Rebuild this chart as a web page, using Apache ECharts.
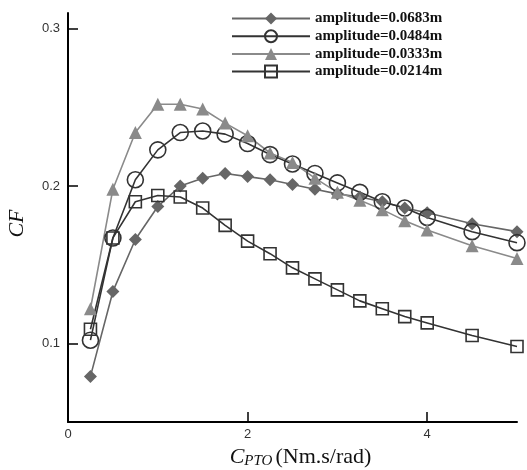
<!DOCTYPE html>
<html>
<head>
<meta charset="utf-8">
<script src="https://cdn.jsdelivr.net/npm/echarts@6/dist/echarts.min.js"></script>
<style>
  html, body { margin: 0; padding: 0; background: #fff; }
  #chart { width: 527px; height: 470px; }
</style>
</head>
<body>
<div id="chart"></div>
<script>
// PTO damping coefficient (Nm.s/rad)
const cpto = [0.25, 0.5, 0.75, 1, 1.25, 1.5, 1.75, 2, 2.25, 2.5, 2.75, 3, 3.25, 3.5, 3.75, 4, 4.5, 5];

// CF for each wave amplitude
const cfA0683 = [0.079, 0.133, 0.166, 0.187, 0.200, 0.205, 0.208, 0.206, 0.204, 0.201, 0.198, 0.195, 0.193, 0.190, 0.186, 0.183, 0.176, 0.171];
const cfA0484 = [0.102, 0.167, 0.204, 0.223, 0.234, 0.235, 0.233, 0.227, 0.220, 0.214, 0.208, 0.202, 0.196, 0.190, 0.186, 0.180, 0.171, 0.164];
const cfA0333 = [0.122, 0.198, 0.234, 0.252, 0.252, 0.249, 0.240, 0.232, 0.221, 0.215, 0.205, 0.196, 0.191, 0.185, 0.178, 0.172, 0.162, 0.154];
const cfA0214 = [0.109, 0.167, 0.190, 0.194, 0.193, 0.186, 0.175, 0.165, 0.157, 0.148, 0.141, 0.134, 0.127, 0.122, 0.117, 0.113, 0.105, 0.098];

const seriesNames = ['amplitude=0.0683m', 'amplitude=0.0484m', 'amplitude=0.0333m', 'amplitude=0.0214m'];

// axis ticks
const xTicks = [0, 2, 4];
const yTicks = [0.1, 0.2, 0.3];

const pair = (ys) => cpto.map((x, i) => [x, ys[i]]);

function makeSeries(name, ys, color, symbol, size, hollow) {
  return {
    name: name,
    type: 'line',
    data: pair(ys),
    symbol: symbol,
    symbolSize: size,
    showSymbol: true,
    lineStyle: { color: color, width: 1.6 },
    itemStyle: hollow
      ? { color: 'rgba(255,255,255,0)', borderColor: color, borderWidth: 1.6 }
      : { color: color, borderWidth: 0 },
    emphasis: { disabled: true },
    animation: false
  };
}

const chart = echarts.init(document.getElementById('chart'), null, { renderer: 'canvas' });

chart.setOption({
  backgroundColor: '#ffffff',
  animation: false,
  grid: { left: 68, right: 10, top: 13, bottom: 48, containLabel: false, outerBoundsMode: 'none' },
  legend: {
    orient: 'vertical',
    left: 226,
    top: 6,
    itemWidth: 78,
    itemHeight: 15,
    itemGap: 2.7,
    data: seriesNames,
    textStyle: {
      fontFamily: 'Liberation Serif',
      fontWeight: 'bold',
      fontSize: 15,
      color: '#111'
    }
  },
  xAxis: {
    type: 'value',
    min: 0,
    max: 5,
    interval: 2,
    splitLine: { show: false },
    axisLine: { onZero: false, lineStyle: { color: '#000', width: 2 } },
    axisTick: { inside: true, length: 10, customValues: [2, 4], lineStyle: { color: '#000', width: 1.5 } },
    axisLabel: { customValues: xTicks, color: '#333', fontFamily: 'Liberation Sans', fontSize: 13, margin: 6 },
    name: '{c|C}{s|PTO}{n|(Nm.s/rad)}',
    nameLocation: 'middle',
    nameGap: 20,
    nameTextStyle: {
      padding: [0, 0, 0, 16],
      rich: {
        c: { fontFamily: 'Liberation Serif', fontStyle: 'italic', fontSize: 22, color: '#111' },
        s: { fontFamily: 'Liberation Serif', fontStyle: 'italic', fontSize: 15, color: '#111', padding: [9, 3, 0, 0] },
        n: { fontFamily: 'Liberation Serif', fontSize: 22, color: '#111' }
      }
    }
  },
  yAxis: {
    type: 'value',
    min: 0.05,
    max: 0.31,
    splitLine: { show: false },
    axisLine: { onZero: false, lineStyle: { color: '#000', width: 2 } },
    axisTick: { inside: true, length: 10, customValues: yTicks, lineStyle: { color: '#000', width: 1.5 } },
    axisLabel: { customValues: yTicks, color: '#333', fontFamily: 'Liberation Sans', fontSize: 13, margin: 8 },
    name: 'CF',
    nameLocation: 'middle',
    nameRotate: 90,
    nameGap: 40,
    nameTextStyle: { fontFamily: 'Liberation Serif', fontStyle: 'italic', fontSize: 22, color: '#111', padding: [0, 12, 0, 0] }
  },
  series: [
    makeSeries(seriesNames[0], cfA0683, '#666666', 'diamond', 13, false),
    makeSeries(seriesNames[1], cfA0484, '#333333', 'circle', 16, true),
    makeSeries(seriesNames[2], cfA0333, '#8a8a8a', 'triangle', 13, false),
    makeSeries(seriesNames[3], cfA0214, '#333333', 'rect', 12, true)
  ]
});
</script>
</body>
</html>
